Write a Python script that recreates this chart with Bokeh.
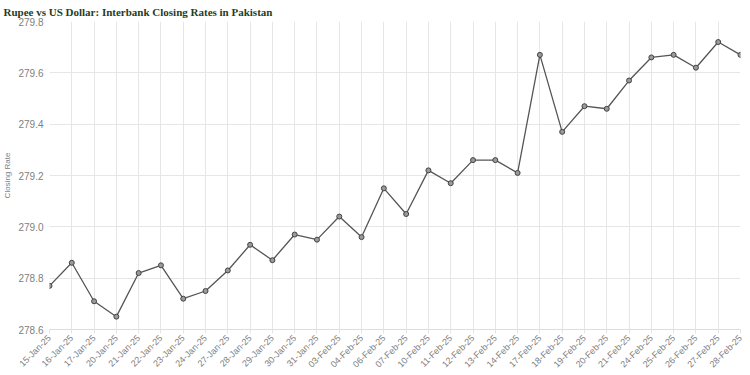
import math
from bokeh.plotting import figure
from bokeh.models import Range1d, FixedTicker, PrintfTickFormatter
from bokeh.embed import file_html
from bokeh.resources import INLINE

dates = ["15-Jan-25", "16-Jan-25", "17-Jan-25", "20-Jan-25", "21-Jan-25", "22-Jan-25",
         "23-Jan-25", "24-Jan-25", "27-Jan-25", "28-Jan-25", "29-Jan-25", "30-Jan-25",
         "31-Jan-25", "03-Feb-25", "04-Feb-25", "06-Feb-25", "07-Feb-25", "10-Feb-25",
         "11-Feb-25", "12-Feb-25", "13-Feb-25", "14-Feb-25", "17-Feb-25", "18-Feb-25",
         "19-Feb-25", "20-Feb-25", "21-Feb-25", "24-Feb-25", "25-Feb-25", "26-Feb-25",
         "27-Feb-25", "28-Feb-25"]
closing = [278.77, 278.86, 278.71, 278.65, 278.82, 278.85, 278.72, 278.75, 278.83, 278.93,
           278.87, 278.97, 278.95, 279.04, 278.96, 279.15, 279.05, 279.22, 279.17, 279.26,
           279.26, 279.21, 279.67, 279.37, 279.47, 279.46, 279.57, 279.66, 279.67, 279.62,
           279.72, 279.67]
y_ticks = [278.6, 278.8, 279.0, 279.2, 279.4, 279.6, 279.8]
title_text = "Rupee vs US Dollar: Interbank Closing Rates in Pakistan"

xs = list(range(len(dates)))

p = figure(width=750, height=375, output_backend="svg", toolbar_location=None,
           x_range=Range1d(0, len(dates) - 1), y_range=Range1d(278.6, 279.8),
           min_border_left=46, min_border_right=10, min_border_top=4, min_border_bottom=3,
           title=title_text)
p.title.text_font = "Liberation Serif"
p.title.text_font_style = "bold"
p.title.text_font_size = "11px"
p.title.text_color = "#1f3d1f"
p.title.align = "left"
p.title.offset = -46
p.title.standoff = 7

p.outline_line_color = None
p.background_fill_color = "white"
p.border_fill_color = "white"

p.xaxis.ticker = FixedTicker(ticks=xs)
p.xaxis.major_label_overrides = {i: d for i, d in enumerate(dates)}
p.xaxis.major_label_orientation = math.pi / 4
p.xaxis.major_label_text_font = "Liberation Sans"
p.xaxis.major_label_text_font_size = "9px"
p.xaxis.major_label_text_color = "#808080"
p.xaxis.major_label_standoff = 3
p.xaxis.axis_line_color = "#dddddd"
p.xaxis.major_tick_line_color = "#e4e4e4"
p.xaxis.major_tick_out = 4
p.xaxis.major_tick_in = 0
p.xaxis.minor_tick_line_color = None

p.yaxis.ticker = FixedTicker(ticks=y_ticks)
p.yaxis.formatter = PrintfTickFormatter(format="%.1f")
p.yaxis.major_label_text_font = "Liberation Sans"
p.yaxis.major_label_text_font_size = "10px"
p.yaxis.major_label_text_color = "#808080"
p.yaxis.axis_line_color = None
p.yaxis.major_tick_line_color = None
p.yaxis.major_tick_out = 0
p.yaxis.major_tick_in = 0
p.yaxis.minor_tick_line_color = None
p.yaxis.major_label_standoff = 6
p.yaxis.axis_label = "Closing Rate"
p.yaxis.axis_label_text_font = "Liberation Sans"
p.yaxis.axis_label_text_font_style = "normal"
p.yaxis.axis_label_text_font_size = "8px"
p.yaxis.axis_label_text_color = "#808080"
p.yaxis.axis_label_standoff = 3

p.xgrid.grid_line_color = "#e6e6e6"
p.ygrid.grid_line_color = "#e6e6e6"

p.line(xs, closing, line_color="#555555", line_width=1.3)
p.scatter(xs, closing, size=5, fill_color="#9a9a9a", line_color="#444444", line_width=1)

open("out.html", "w").write(file_html(p, INLINE))
